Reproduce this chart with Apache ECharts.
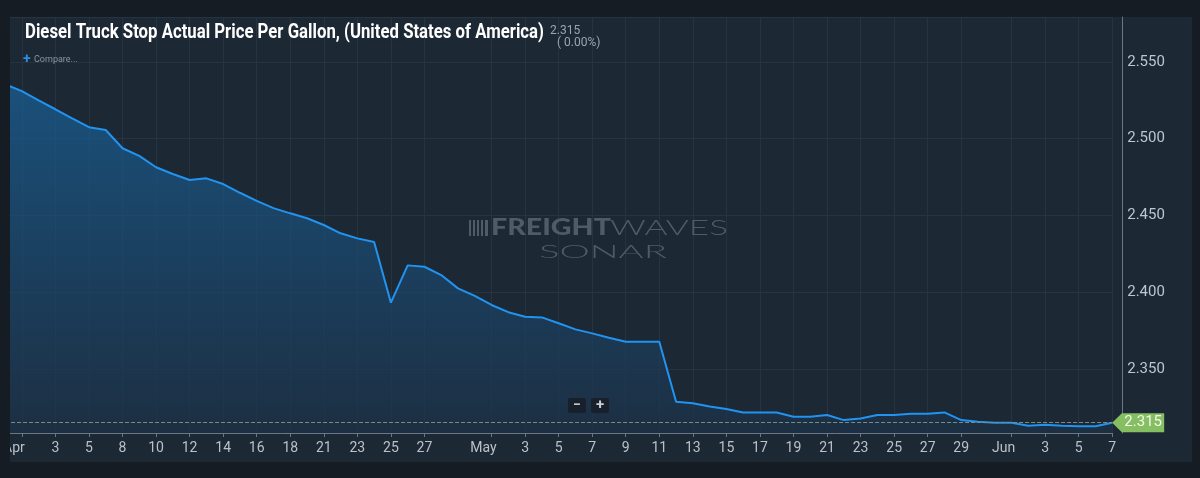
<!DOCTYPE html>
<html>
<head>
<meta charset="utf-8">
<script src="https://cdn.jsdelivr.net/npm/echarts@6/dist/echarts.min.js"></script>
<style>
html,body{margin:0;padding:0;background:#151c23;}
#c{width:1200px;height:478px;}
</style>
</head>
<body>
<div id="c"></div>
<script>
// ---- data ----
const dates = [
  '2020-03-31','2020-04-01','2020-04-02','2020-04-03','2020-04-04','2020-04-05','2020-04-06',
  '2020-04-08','2020-04-09','2020-04-10','2020-04-11','2020-04-12','2020-04-13','2020-04-14',
  '2020-04-15','2020-04-16','2020-04-17','2020-04-18','2020-04-20','2020-04-21','2020-04-22',
  '2020-04-23','2020-04-24','2020-04-25','2020-04-26','2020-04-27','2020-04-28','2020-04-29',
  '2020-04-30','2020-05-01','2020-05-02','2020-05-03','2020-05-04','2020-05-05','2020-05-06',
  '2020-05-07','2020-05-08','2020-05-09','2020-05-10','2020-05-11','2020-05-12','2020-05-13',
  '2020-05-14','2020-05-15','2020-05-16','2020-05-17','2020-05-18','2020-05-19','2020-05-20',
  '2020-05-21','2020-05-22','2020-05-23','2020-05-24','2020-05-25','2020-05-26','2020-05-27',
  '2020-05-28','2020-05-29','2020-05-30','2020-05-31','2020-06-01','2020-06-02','2020-06-03',
  '2020-06-04','2020-06-05','2020-06-06','2020-06-07'
];
const prices = [
  2.5355, 2.5310, 2.5250, 2.5192, 2.5133, 2.5075, 2.5057,
  2.4938, 2.4888, 2.4814, 2.4770, 2.4731, 2.4742, 2.4705,
  2.4648, 2.4595, 2.4548, 2.4514, 2.4482, 2.4438, 2.4384,
  2.4351, 2.4327, 2.3932, 2.4175, 2.4166, 2.4112, 2.4025,
  2.3976, 2.3917, 2.3870, 2.3840, 2.3836, 2.3798, 2.3758,
  2.3732, 2.3704, 2.3678, 2.3678, 2.3678, 2.3287, 2.3277,
  2.3255, 2.3240, 2.3217, 2.3217, 2.3217, 2.3189, 2.3189,
  2.3200, 2.3167, 2.3178, 2.3200, 2.3200, 2.3209, 2.3209,
  2.3217, 2.3167, 2.3156, 2.3150, 2.3150, 2.3130, 2.3137,
  2.3130, 2.3127, 2.3127, 2.3150
];
const tickDates = [
  '2020-04-01','2020-04-03','2020-04-05','2020-04-08','2020-04-10','2020-04-12','2020-04-14',
  '2020-04-16','2020-04-18','2020-04-21','2020-04-23','2020-04-25','2020-04-27',
  '2020-05-01','2020-05-03','2020-05-05','2020-05-07','2020-05-09','2020-05-11','2020-05-13',
  '2020-05-15','2020-05-17','2020-05-19','2020-05-21','2020-05-23','2020-05-25','2020-05-27',
  '2020-05-29','2020-06-01','2020-06-03','2020-06-05','2020-06-07'
];
const monthNames = ['Jan','Feb','Mar','Apr','May','Jun','Jul','Aug','Sep','Oct','Nov','Dec'];
const titleText = 'Diesel Truck Stop Actual Price Per Gallon, (United States of America)';
const changeText = '( 0.00%)';

// ---- chart ----
const chart = echarts.init(document.getElementById('c'), null, {renderer: 'canvas', width: 1200, height: 478});
const last = prices.length - 1;
const tickSet = new Set(tickDates);
const showTick = (i, v) => tickSet.has(v);
function fmtDate(v) {
  const p = v.split('-').map(Number);
  return p[2] === 1 ? '{m|' + monthNames[p[1] - 1] + '}' : String(p[2]);
}
const OUTER = '#151c23';
const PANEL = '#1c2834';
const GRIDC = '#263340';
const AXISC = '#6b7784';
const WM = '#4f5b68';

const option = {
  backgroundColor: OUTER,
  animation: false,
  textStyle: {fontFamily: 'Roboto'},
  grid: {left: 1.5, right: 87.8, top: 17, bottom: 45},
  xAxis: {
    type: 'category',
    data: dates,
    boundaryGap: false,
    axisLine: {lineStyle: {color: AXISC}},
    axisTick: {show: true, interval: showTick, length: 4, lineStyle: {color: AXISC}},
    axisLabel: {
      interval: showTick,
      formatter: fmtDate,
      color: '#b9c2cb',
      fontSize: 14,
      margin: 8,
      rich: {m: {padding: [0, 16, 0, 0], color: '#b9c2cb', fontSize: 14}}
    },
    splitLine: {show: true, interval: showTick, lineStyle: {color: GRIDC, width: 1}}
  },
  yAxis: {
    type: 'value',
    position: 'right',
    min: 2.3083,
    max: 2.5793,
    splitNumber: 5,
    minInterval: 0.05,
    maxInterval: 0.05,
    offset: 10,
    axisLine: {show: true, lineStyle: {color: AXISC}},
    axisTick: {show: false},
    axisLabel: {
      margin: 5,
      color: '#bcc6cf',
      fontSize: 15,
      formatter: v => (Math.abs(v * 20 - Math.round(v * 20)) < 1e-6 ? v.toFixed(3) : '')
    },
    splitLine: {show: true, lineStyle: {color: GRIDC, width: 1}}
  },
  series: [{
    type: 'line',
    data: prices,
    symbol: 'none',
    lineStyle: {color: '#2193f0', width: 2},
    itemStyle: {color: '#2193f0'},
    areaStyle: {
      color: new echarts.graphic.LinearGradient(0, 0, 0, 1, [
        {offset: 0, color: '#19629a'},
        {offset: 1, color: '#1c3249'}
      ])
    },
    markLine: {
      silent: true,
      precision: 4,
      symbol: ['none', 'none'],
      label: {show: false},
      lineStyle: {type: 'dashed', color: '#7f8a82', width: 1},
      data: [{yAxis: prices[last]}]
    },
    markPoint: {
      silent: true,
      symbol: 'path://M0,10 L10,0 L54,0 L54,20 L10,20 Z',
      symbolSize: [52, 19],
      symbolKeepAspect: false,
      symbolOffset: [26, 0],
      itemStyle: {color: '#86bf62'},
      label: {
        show: true,
        position: 'inside',
        offset: [5, 0],
        color: '#f2f8ec',
        fontSize: 15,
        formatter: p => Number(p.value).toFixed(3)
      },
      data: [{coord: [dates[last], prices[last]], value: prices[last]}]
    }
  }],
  graphic: [
    {type: 'rect', silent: true, z: -10, shape: {x: 10, y: 17, width: 1182, height: 445}, style: {fill: PANEL}},
    {type: 'rect', silent: true, zlevel: 2, z: 100, shape: {x: 0, y: 0, width: 10, height: 478}, style: {fill: OUTER}},
    // title
    {type: 'text', silent: true, z: 50, x: 25, y: 33, scaleX: 0.838, style: {text: titleText, fill: '#ffffff', fontSize: 20, fontWeight: 'bold', fontFamily: 'Roboto', textVerticalAlign: 'middle'}},
    {type: 'text', silent: true, z: 50, x: 550, y: 31, style: {text: prices[last].toFixed(3), fill: '#9aa5af', fontSize: 12, fontFamily: 'Roboto', textVerticalAlign: 'middle'}},
    {type: 'text', silent: true, z: 50, x: 557, y: 43, style: {text: changeText, fill: '#9aa5af', fontSize: 12, fontFamily: 'Roboto', textVerticalAlign: 'middle'}},
    // compare
    {type: 'text', silent: true, z: 50, x: 23, y: 59, style: {text: '+', fill: '#2f8de4', fontSize: 14, fontWeight: 'bold', fontFamily: 'Roboto', textVerticalAlign: 'middle'}},
    {type: 'text', silent: true, z: 50, x: 34, y: 60, style: {text: 'Compare...', fill: '#8b97a3', fontSize: 9, fontFamily: 'Roboto', textVerticalAlign: 'middle'}},
    // watermark icon
    {type: 'group', silent: true, z: 1, children: [
      {type: 'rect', shape: {x: 469, y: 220, width: 2, height: 16}, style: {fill: WM}},
      {type: 'rect', shape: {x: 473, y: 220, width: 2, height: 16}, style: {fill: WM}},
      {type: 'rect', shape: {x: 477, y: 220, width: 2, height: 16}, style: {fill: WM}},
      {type: 'rect', shape: {x: 481, y: 220, width: 2, height: 16}, style: {fill: WM}},
      {type: 'rect', shape: {x: 485, y: 220, width: 3, height: 16}, style: {fill: WM}}
    ]},
    {type: 'text', silent: true, z: 1, x: 491, y: 228, scaleX: 1.3, style: {text: 'FREIGHT', fill: WM, fontSize: 22, fontWeight: 900, fontFamily: 'Lato', textVerticalAlign: 'middle'}},
    {type: 'text', silent: true, z: 1, x: 610, y: 228, scaleX: 1.6, style: {text: 'WAVES', fill: WM, fontSize: 22, fontWeight: 300, fontFamily: 'Lato', textVerticalAlign: 'middle'}},
    {type: 'text', silent: true, z: 1, x: 539, y: 253, scaleX: 2.25, style: {text: 'SONAR', fill: WM, fontSize: 17, fontWeight: 300, fontFamily: 'Lato', textVerticalAlign: 'middle'}},
    // zoom control
    {type: 'rect', silent: true, z: 50, shape: {x: 568, y: 398, width: 18, height: 15, r: 2}, style: {fill: '#18212b'}},
    {type: 'rect', silent: true, z: 50, shape: {x: 591, y: 398, width: 18, height: 15, r: 2}, style: {fill: '#18212b'}},
    {type: 'text', silent: true, z: 51, x: 577, y: 405, style: {text: '−', fill: '#c8ced4', fontSize: 14, fontWeight: 'bold', fontFamily: 'Roboto', textAlign: 'center', textVerticalAlign: 'middle'}},
    {type: 'text', silent: true, z: 51, x: 600, y: 405, style: {text: '+', fill: '#c8ced4', fontSize: 15, fontWeight: 'bold', fontFamily: 'Roboto', textAlign: 'center', textVerticalAlign: 'middle'}}
  ]
};
chart.setOption(option);
</script>
</body>
</html>
